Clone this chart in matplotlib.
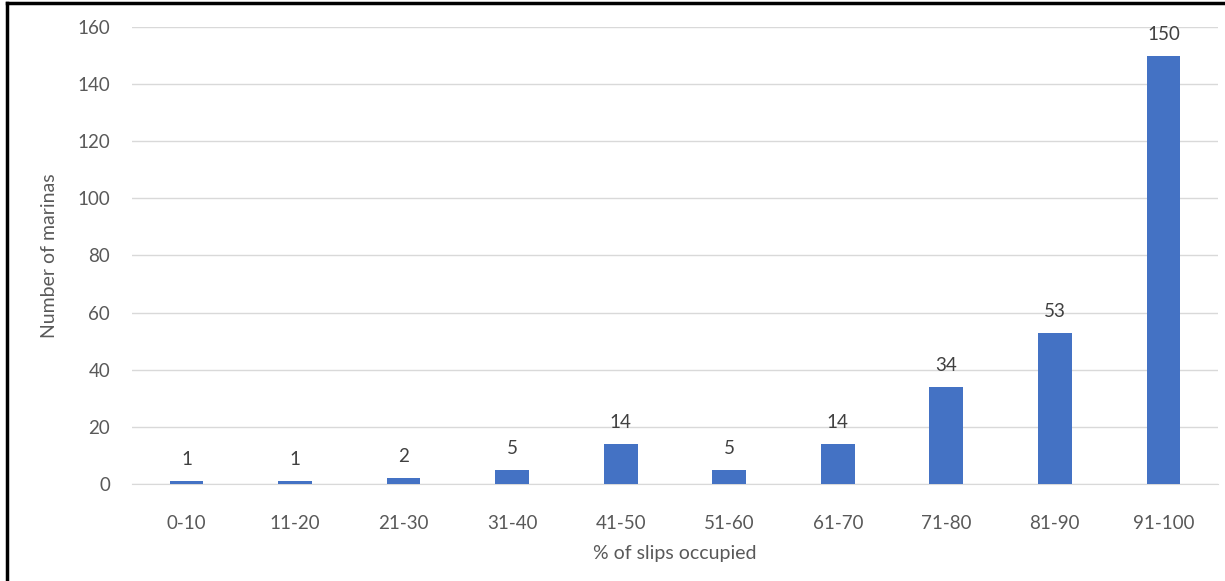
import matplotlib.pyplot as plt
from matplotlib.lines import Line2D

plt.rcParams['font.family'] = ['Lato', 'DejaVu Sans']

# occupancy buckets and marina counts
ranges = ['0-10', '11-20', '21-30', '31-40', '41-50', '51-60',
          '61-70', '71-80', '81-90', '91-100']
marinas = [1, 1, 2, 5, 14, 5, 14, 34, 53, 150]
yticks = [0, 20, 40, 60, 80, 100, 120, 140, 160]

fig = plt.figure(figsize=(12.25, 5.81), dpi=100)
ax = fig.add_axes([0.108, 0.167, 0.886, 0.7866])

x = list(range(len(ranges)))
bars = ax.bar(x, marinas, width=0.31, color='#4472C4', zorder=3)

for xi, v in zip(x, marinas):
    ax.text(xi, v + 4.5, str(v), ha='center', va='bottom',
            fontsize=13.5, color='#404040')

ax.set_xlim(-0.5, len(ranges) - 0.5)
ax.set_ylim(0, 160)
ax.set_yticks(yticks)
ax.set_xticks(x)
ax.set_xticklabels(ranges)
ax.tick_params(axis='both', length=0, labelsize=13.5, colors='#595959')
ax.tick_params(axis='y', pad=16)
ax.tick_params(axis='x', pad=22)

ax.grid(axis='y', color='#d9d9d9', linewidth=1, zorder=0)
for s in ['top', 'right', 'left']:
    ax.spines[s].set_visible(False)
ax.spines['bottom'].set_color('#d9d9d9')

ax.set_xlabel('% of slips occupied', fontsize=14, color='#595959', labelpad=10)
ax.set_ylabel('Number of marinas', fontsize=14, color='#595959', labelpad=14)

# frame lines along the top and left edges
fig.add_artist(Line2D([0.0055, 1.0], [0.9945, 0.9945], transform=fig.transFigure,
                      color='black', linewidth=2.5))
fig.add_artist(Line2D([0.0055, 0.0055], [0.0, 0.9945], transform=fig.transFigure,
                      color='black', linewidth=2.5))

fig.savefig('out.png', dpi=100)
